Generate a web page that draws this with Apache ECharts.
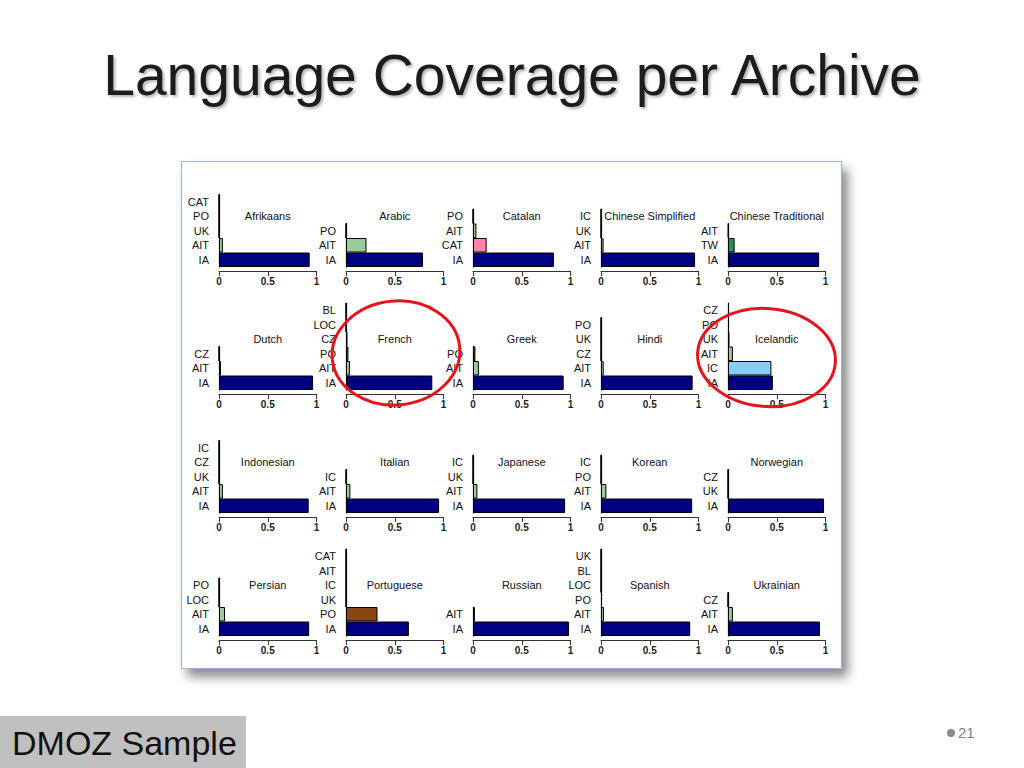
<!DOCTYPE html>
<html>
<head>
<meta charset="utf-8">
<title>Language Coverage per Archive</title>
<script src="https://cdn.jsdelivr.net/npm/echarts@6/dist/echarts.min.js"></script>
<style>
  html, body { margin: 0; padding: 0; background: #fff; width: 1024px; height: 768px; overflow: hidden;
    font-family: "Liberation Sans", Arial, sans-serif; }
  #title { position: absolute; left: 0; top: 47px; width: 1024px; text-align: center; font-size: 57px;
    line-height: 57px; color: #1c1c1c; text-shadow: 2px 2px 3px rgba(0,0,0,0.3); }
  #frame { position: absolute; left: 181px; top: 161px; width: 659px; height: 506px; background: #fff;
    border: 1px solid #9fb3cf; box-shadow: 6px 8px 10px rgba(0,0,0,0.45); }
  #tag { position: absolute; left: 0; top: 716px; width: 246px; height: 52px; background: #c0c0c0;
    font-size: 34px; line-height: 54px; padding-left: 12px; box-sizing: border-box; color: #111; }
  #page { position: absolute; left: 947px; top: 724px; font-size: 15px; color: #7f7f7f; }
  #page span { display: inline-block; width: 8px; height: 8px; border-radius: 4px; background: #8c8c8c;
    margin-right: 3px; vertical-align: 1px; }
  #chart { position: absolute; left: 0; top: 0; width: 1024px; height: 768px; }
</style>
</head>
<body>
<div id="title">Language Coverage per Archive</div>
<div id="frame"></div>
<div id="chart"></div>
<div id="tag">DMOZ Sample</div>
<div id="page"><span></span>21</div>
<script>
// panels, left to right then top to bottom
const languages = ['Afrikaans', 'Arabic', 'Catalan', 'Chinese Simplified', 'Chinese Traditional',
  'Dutch', 'French', 'Greek', 'Hindi', 'Icelandic',
  'Indonesian', 'Italian', 'Japanese', 'Korean', 'Norwegian',
  'Persian', 'Portuguese', 'Russian', 'Spanish', 'Ukrainian']

// archives per panel, bottom to top
const archives = [
  ['IA', 'AIT', 'UK', 'PO', 'CAT'],
  ['IA', 'AIT', 'PO'],
  ['IA', 'CAT', 'AIT', 'PO'],
  ['IA', 'AIT', 'UK', 'IC'],
  ['IA', 'TW', 'AIT'],
  ['IA', 'AIT', 'CZ'],
  ['IA', 'AIT', 'PO', 'CZ', 'LOC', 'BL'],
  ['IA', 'AIT', 'PO'],
  ['IA', 'AIT', 'CZ', 'UK', 'PO'],
  ['IA', 'IC', 'AIT', 'UK', 'PO', 'CZ'],
  ['IA', 'AIT', 'UK', 'CZ', 'IC'],
  ['IA', 'AIT', 'IC'],
  ['IA', 'AIT', 'UK', 'IC'],
  ['IA', 'AIT', 'PO', 'IC'],
  ['IA', 'UK', 'CZ'],
  ['IA', 'AIT', 'LOC', 'PO'],
  ['IA', 'PO', 'UK', 'IC', 'AIT', 'CAT'],
  ['IA', 'AIT'],
  ['IA', 'AIT', 'PO', 'LOC', 'BL', 'UK'],
  ['IA', 'AIT', 'CZ']
]

// share of each language's sample found in each archive
const coverage = [
  [0.93, 0.04, 0, 0, 0],
  [0.79, 0.21, 0],
  [0.83, 0.14, 0.035, 0],
  [0.965, 0.027, 0, 0],
  [0.935, 0.068, 0.005],
  [0.965, 0.02, 0],
  [0.885, 0.04, 0.025, 0.015, 0, 0],
  [0.93, 0.06, 0.025],
  [0.94, 0.028, 0, 0, 0],
  [0.46, 0.445, 0.05, 0.015, 0.01, 0.01],
  [0.92, 0.04, 0, 0, 0],
  [0.955, 0.045, 0],
  [0.945, 0.045, 0, 0],
  [0.935, 0.055, 0, 0],
  [0.985, 0, 0],
  [0.925, 0.062, 0, 0],
  [0.645, 0.323, 0, 0, 0, 0],
  [0.985, 0.02],
  [0.915, 0.03, 0.01, 0, 0, 0],
  [0.943, 0.05, 0]
]

const archiveColors = {
  IA: '#000080', AIT: '#99cc99', CAT: '#ff82ab', TW: '#2e8b57', IC: '#87cefa',
  PO: '#8b4513', CZ: '#6a3d9a', UK: '#daa520', LOC: '#555555', BL: '#777777'
}

// layout of the 5 x 4 panel grid (pixels)
const colLeft = [219, 346, 473, 601, 728]
const colWidth = 97.5
const rowBottom = [267, 390, 513, 636]
const band = 14.5

let grids = [], xAxes = [], yAxes = [], series = [], graphics = []

languages.forEach((lang, i) => {
  let r = Math.floor(i / 5)
  let c = i % 5
  let labels = archives[i]
  let n = labels.length
  grids.push({
    left: colLeft[c], top: rowBottom[r] - n * band, width: colWidth, height: n * band
  })
  xAxes.push({
    gridIndex: i, type: 'value', min: 0, max: 1, interval: 0.5, offset: 4,
    axisLine: { show: true, lineStyle: { color: '#333', width: 1 } },
    axisTick: { show: true, length: 5, lineStyle: { color: '#333' } },
    axisLabel: { fontSize: 10, fontWeight: 'bold', color: '#222', margin: 5,
      fontFamily: 'Liberation Sans' },
    splitLine: { show: false }
  })
  yAxes.push({
    gridIndex: i, type: 'category', data: labels,
    axisLine: { show: true, lineStyle: { color: '#000', width: 1.2 } },
    axisTick: { show: false },
    axisLabel: { interval: 0, fontSize: 11, color: '#111', margin: 10, fontFamily: 'Liberation Sans' },
    splitLine: { show: false }
  })
  series.push({
    type: 'bar', xAxisIndex: i, yAxisIndex: i, barCategoryGap: '0%', silent: true,
    itemStyle: { borderColor: '#000', borderWidth: 1 },
    data: coverage[i].map((v, k) => ({ value: v, itemStyle: { color: archiveColors[labels[k]] } }))
  })
  graphics.push({
    type: 'text', x: colLeft[c] + colWidth / 2, y: rowBottom[r] - 51, silent: true,
    style: { text: lang, fontSize: 11, fill: '#111', fontFamily: 'Liberation Sans',
      textAlign: 'center', textVerticalAlign: 'middle' }
  })
})

// red highlight rings around French and Icelandic
graphics.push({
  type: 'ellipse', z: 100, silent: true, x: 396, y: 353, rotation: 0.1,
  shape: { cx: 0, cy: 0, rx: 64, ry: 52 },
  style: { fill: 'none', stroke: '#e3151a', lineWidth: 3 }
})
graphics.push({
  type: 'ellipse', z: 100, silent: true, x: 766.5, y: 357.5, rotation: -0.08,
  shape: { cx: 0, cy: 0, rx: 69, ry: 49 },
  style: { fill: 'none', stroke: '#e3151a', lineWidth: 3 }
})

const chart = echarts.init(document.getElementById('chart'), null, { renderer: 'svg', width: 1024, height: 768 })
chart.setOption({
  animation: false,
  grid: grids,
  xAxis: xAxes,
  yAxis: yAxes,
  series: series,
  graphic: graphics
})
</script>
</body>
</html>
